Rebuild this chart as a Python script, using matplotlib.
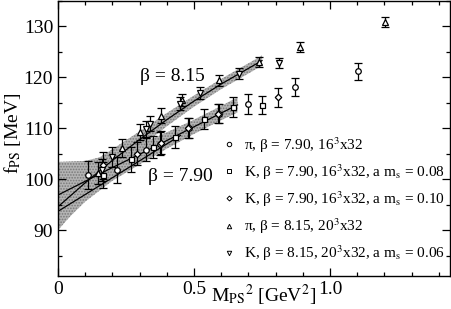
import matplotlib
matplotlib.use("Agg")
import matplotlib.pyplot as plt
from matplotlib.lines import Line2D
from matplotlib.ticker import MultipleLocator

plt.rcParams['font.family'] = ['Liberation Serif', 'DejaVu Serif']
plt.rcParams['mathtext.fontset'] = 'stix'
plt.rcParams['hatch.linewidth'] = 0.8

# ---- data ----
pi790_x = [0.111, 0.216, 0.324, 0.375, 0.483, 0.592, 0.700, 0.871, 1.102]
pi790_y = [100.8, 101.8, 105.8, 107.0, 110.1, 112.9, 114.8, 118.1, 121.2]
pi790_e = [2.8, 2.6, 2.3, 2.2, 2.0, 1.9, 1.9, 1.8, 1.7]

k790a_x = [0.164, 0.27, 0.35, 0.43, 0.537, 0.645, 0.751]
k790a_y = [100.8, 103.9, 106.3, 108.3, 111.8, 114.2, 114.6]
k790a_e = [2.6, 2.4, 2.2, 2.1, 2.0, 1.9, 1.8]

k790b_x = [0.167, 0.292, 0.38, 0.479, 0.589, 0.81]
k790b_y = [102.7, 105.0, 107.2, 110.1, 112.9, 116.1]
k790b_e = [2.6, 2.3, 2.2, 2.0, 1.9, 1.9]

pi815_x = [0.146, 0.234, 0.30, 0.377, 0.455, 0.593, 0.74, 0.89, 1.202]
pi815_y = [101.2, 106.2, 109.3, 112.5, 115.5, 119.4, 123.0, 125.9, 130.8]
pi815_e = [2.2, 1.8, 1.6, 1.4, 1.2, 1.1, 1.0, 1.0, 1.0]

k815_x = [0.16, 0.2, 0.322, 0.338, 0.449, 0.522, 0.667, 0.812]
k815_y = [101.8, 104.4, 109.9, 110.9, 114.8, 117.0, 120.7, 122.9]
k815_e = [2.2, 2.0, 1.6, 1.5, 1.3, 1.2, 1.1, 1.0]

# fit curves and error bands
fit815_x = [0.0, 0.1, 0.2, 0.3, 0.4, 0.5, 0.6, 0.75]
fit815_y = [94.6, 99.3, 103.7, 107.8, 111.7, 115.35, 118.7, 123.3]
fit815_h = [4.6, 3.2, 2.2, 1.6, 1.3, 1.1, 1.0, 1.0]

fit790_x = [0.0, 0.1, 0.2, 0.3, 0.4, 0.5, 0.6, 0.66]
fit790_y = [96.9, 99.6, 102.3, 104.9, 107.6, 110.3, 113.0, 114.6]
fit790_h = [6.5, 4.0, 2.6, 2.0, 1.6, 1.4, 1.4, 1.5]

fit790k_x = [0.0, 0.2, 0.45]
fit790k_y = [93.7, 100.3, 108.6]

labels = [r'π, β = 7.90, 16$^3$x32',
          r'K, β = 7.90, 16$^3$x32, a m$_\mathrm{s}$ = 0.08',
          r'K, β = 7.90, 16$^3$x32, a m$_\mathrm{s}$ = 0.10',
          r'π, β = 8.15, 20$^3$x32',
          r'K, β = 8.15, 20$^3$x32, a m$_\mathrm{s}$ = 0.06']

fig = plt.figure(figsize=(4.52, 3.09), dpi=100)
ax = fig.add_axes([58/452, 1-276/309, (450-58)/452, (276-1)/309])

def band(x, y, h):
    lo = [a - b for a, b in zip(y, h)]
    hi = [a + b for a, b in zip(y, h)]
    ax.fill_between(x, lo, hi, facecolor='#b4b4b4', edgecolor='#787878',
                    hatch='......', linewidth=0, zorder=1)

band(fit790_x, fit790_y, fit790_h)
band(fit815_x, fit815_y, fit815_h)
ax.plot(fit790_x, fit790_y, color='black', lw=0.9, zorder=2)
ax.plot(fit815_x, fit815_y, color='black', lw=0.9, zorder=2)
ax.plot(fit790k_x, fit790k_y, color='black', lw=0.9, zorder=2)

series = [(pi790_x, pi790_y, pi790_e, 'o'),
          (k790a_x, k790a_y, k790a_e, 's'),
          (k790b_x, k790b_y, k790b_e, 'D'),
          (pi815_x, pi815_y, pi815_e, '^'),
          (k815_x, k815_y, k815_e, 'v')]
msizes = {'o': 4.0, 's': 3.6, 'D': 3.3, '^': 4.0, 'v': 4.0}
handles = []
for x, y, e, m in series:
    ax.errorbar(x, y, yerr=e, fmt=m, ms=msizes[m], mfc='white', mec='black',
                mew=0.9, ecolor='black', elinewidth=0.9, capsize=3, capthick=0.9,
                zorder=3)
    handles.append(Line2D([], [], ls='none', marker=m, ms=msizes[m] - 0.8,
                          mfc='white', mec='black', mew=0.7))

ax.set_xlim(0, 1.441)
ax.set_ylim(81, 135)
ax.xaxis.set_minor_locator(MultipleLocator(0.1))
ax.yaxis.set_minor_locator(MultipleLocator(5))
ax.set_yticks([90, 100, 110, 120, 130])
ax.set_xticks([0, 0.5, 1.0])
ax.set_xticklabels(['0', '0.5', '1.0'])
ax.tick_params(which='both', direction='in', top=True, right=True, labelsize=14, width=0.9)
ax.tick_params(which='major', length=5.5, pad=3.5)
ax.tick_params(which='minor', length=3)
for s in ax.spines.values():
    s.set_linewidth(1.0)

ax.text(0.30, 120.1, 'β = 8.15', fontsize=14, va='center', ha='left')
ax.text(0.33, 100.6, 'β = 7.90', fontsize=14, va='center', ha='left')

fig.text(264/452, 1-295/309, r'M$_\mathrm{PS}$$^2$ [GeV$^2$]', fontsize=14,
         ha='center', va='center')
fig.text(13/452, 1-133/309, r'f$_\mathrm{PS}$ [MeV]', fontsize=14,
         ha='center', va='center', rotation=90)

ax.legend(handles, labels, loc='upper left', bbox_to_anchor=(223/452, 1-135/309),
          bbox_transform=fig.transFigure, frameon=False, fontsize=11,
          handlelength=0.8, handletextpad=0.6, labelspacing=0.49,
          borderpad=0, borderaxespad=0)

fig.savefig('out.png', dpi=100)
